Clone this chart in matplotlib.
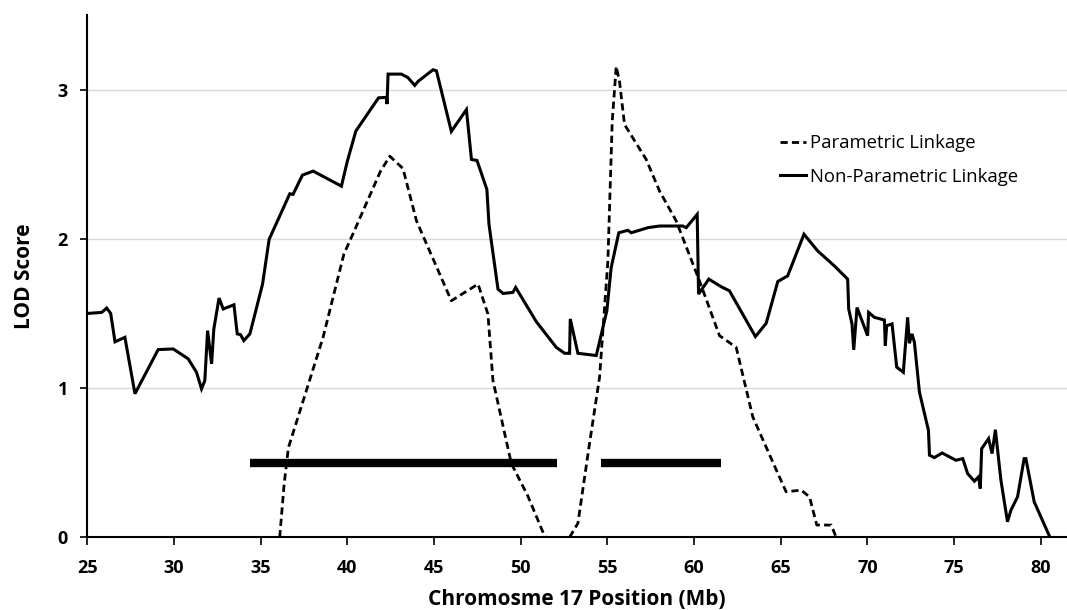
import numpy as np
import matplotlib
matplotlib.use("Agg")
import matplotlib.pyplot as plt

# ---- data ----
npl_x = [25.0, 25.83, 26.12, 26.35, 26.6, 27.17, 27.75, 29.09, 29.96, 30.82, 31.3, 31.59, 31.78,
         31.94, 32.17, 32.3, 32.6, 32.84, 33.46, 33.65, 33.84, 34.03, 34.38, 35.11, 35.49, 36.1,
         36.68, 36.87, 37.41, 38.03, 39.66, 40.0, 40.49, 41.8, 42.26, 42.29, 42.35, 43.12, 43.5,
         43.89, 44.08, 44.94, 45.14, 46.0, 46.87, 47.16, 47.48, 48.05, 48.17, 48.69, 48.98, 49.55,
         49.71, 50.9, 52.05, 52.53, 52.82, 52.86, 53.3, 54.36, 54.97, 55.22, 55.66, 56.18, 56.38,
         57.34, 58.01, 59.35, 59.55, 60.18, 60.26, 60.85, 61.57, 62.04, 63.54, 64.16, 64.83, 65.4,
         66.34, 67.13, 68.09, 68.86, 68.92, 69.11, 69.21, 69.4, 70.01, 70.07, 70.4, 70.98, 71.03,
         71.11, 71.42, 71.69, 72.07, 72.32, 72.42, 72.57, 72.71, 73.0, 73.52, 73.58, 73.86, 74.31,
         75.11, 75.5, 75.78, 76.17, 76.41, 76.51, 76.59, 76.99, 77.19, 77.38, 77.7, 78.08, 78.28,
         78.66, 79.04, 79.14, 79.62, 80.53]
npl_y = [1.50, 1.507, 1.536, 1.50, 1.31, 1.34, 0.962, 1.258, 1.262, 1.196, 1.106, 0.995, 1.05,
         1.385, 1.162, 1.396, 1.603, 1.53, 1.558, 1.363, 1.358, 1.318, 1.363, 1.697, 1.997, 2.153,
         2.302, 2.298, 2.427, 2.454, 2.353, 2.52, 2.722, 2.945, 2.948, 2.903, 3.104, 3.104, 3.08,
         3.028, 3.055, 3.133, 3.126, 2.72, 2.866, 2.532, 2.525, 2.331, 2.098, 1.663, 1.634, 1.641,
         1.674, 1.445, 1.273, 1.233, 1.233, 1.463, 1.233, 1.218, 1.518, 1.808, 2.041, 2.057, 2.041,
         2.075, 2.086, 2.086, 2.075, 2.164, 1.63, 1.73, 1.679, 1.652, 1.345, 1.434, 1.714, 1.752,
         2.031, 1.919, 1.819, 1.73, 1.53, 1.43, 1.256, 1.54, 1.351, 1.507, 1.474, 1.456, 1.285,
         1.418, 1.43, 1.14, 1.106, 1.474, 1.3, 1.363, 1.307, 0.973, 0.717, 0.55, 0.534, 0.565,
         0.516, 0.527, 0.427, 0.376, 0.405, 0.327, 0.594, 0.661, 0.561, 0.721, 0.383, 0.104, 0.182,
         0.271, 0.527, 0.527, 0.238, 0.0]

par_x = [36.1, 36.35, 36.6, 37.64, 38.6, 39.8, 40.35, 41.9, 42.45, 43.21, 43.99, 46.0, 47.54,
         48.11, 48.4, 49.46, 50.4, 51.3, 51.45, np.nan,
         52.82, 53.3, 53.97, 54.55, 55.03, 55.28, 55.51, 55.7, 55.99, 57.24, 58.01, 58.97, 60.31,
         61.47, 62.43, 63.39, 64.92, 65.31, 66.18, 66.66, 67.08, 67.91, 68.2]
par_y = [0.0, 0.35, 0.6, 0.984, 1.34, 1.897, 2.04, 2.45, 2.554, 2.471, 2.12, 1.585, 1.697,
         1.496, 1.051, 0.494, 0.28, 0.03, 0.0, np.nan,
         0.0, 0.094, 0.628, 1.073, 1.852, 2.788, 3.155, 3.055, 2.766, 2.532, 2.32, 2.12, 1.719,
         1.351, 1.273, 0.806, 0.405, 0.305, 0.316, 0.271, 0.082, 0.082, 0.0]

bar_starts = [34.38, 54.61]
bar_ends = [52.1, 61.56]
bar_level = [0.5, 0.5]

x_ticks = [25, 30, 35, 40, 45, 50, 55, 60, 65, 70, 75, 80]
y_ticks = [0, 1, 2, 3]

plt.rcParams['font.family'] = ['Open Sans', 'DejaVu Sans']

fig = plt.figure(figsize=(10.67, 6.10), dpi=100)
ax = fig.add_axes([0.0818, 0.1192, 0.918, 0.8562])

for yv in [1, 2, 3]:
    ax.axhline(yv, color='#d9d9d9', lw=1.0, zorder=0)

ax.plot(par_x, par_y, color='black', lw=2.0, linestyle=(0, (2.6, 1.5)),
        label='Parametric Linkage', zorder=3)
ax.plot(npl_x, npl_y, color='black', lw=2.2, solid_joinstyle='miter',
        label='Non-Parametric Linkage', zorder=3)
ax.hlines(bar_level, bar_starts, bar_ends, color='black', lw=6.0, zorder=4)

ax.set_xlim(25, 81.5)
ax.set_ylim(0, 3.5)
ax.set_xticks(x_ticks)
ax.set_yticks(y_ticks)
ax.tick_params(axis='x', direction='out', length=5.5, width=1.2, labelsize=13, pad=10)
ax.tick_params(axis='y', direction='out', length=5.0, width=1.2, labelsize=13, pad=9)
for lab in ax.get_xticklabels() + ax.get_yticklabels():
    lab.set_fontweight('bold')

for s in ['top', 'right']:
    ax.spines[s].set_visible(False)
for s in ['left', 'bottom']:
    ax.spines[s].set_linewidth(1.5)

ax.set_xlabel('Chromosme 17 Position (Mb)', fontsize=15, fontweight='bold', labelpad=9)
ax.set_ylabel('LOD Score', fontsize=15, fontweight='bold', labelpad=16)

leg = ax.legend(loc='upper left', bbox_to_anchor=(0.707, 0.772), frameon=False,
                fontsize=13.3, handlelength=1.4, handletextpad=0.25, labelspacing=0.85,
                borderaxespad=0, borderpad=0)

fig.savefig('out.png', dpi=100)
